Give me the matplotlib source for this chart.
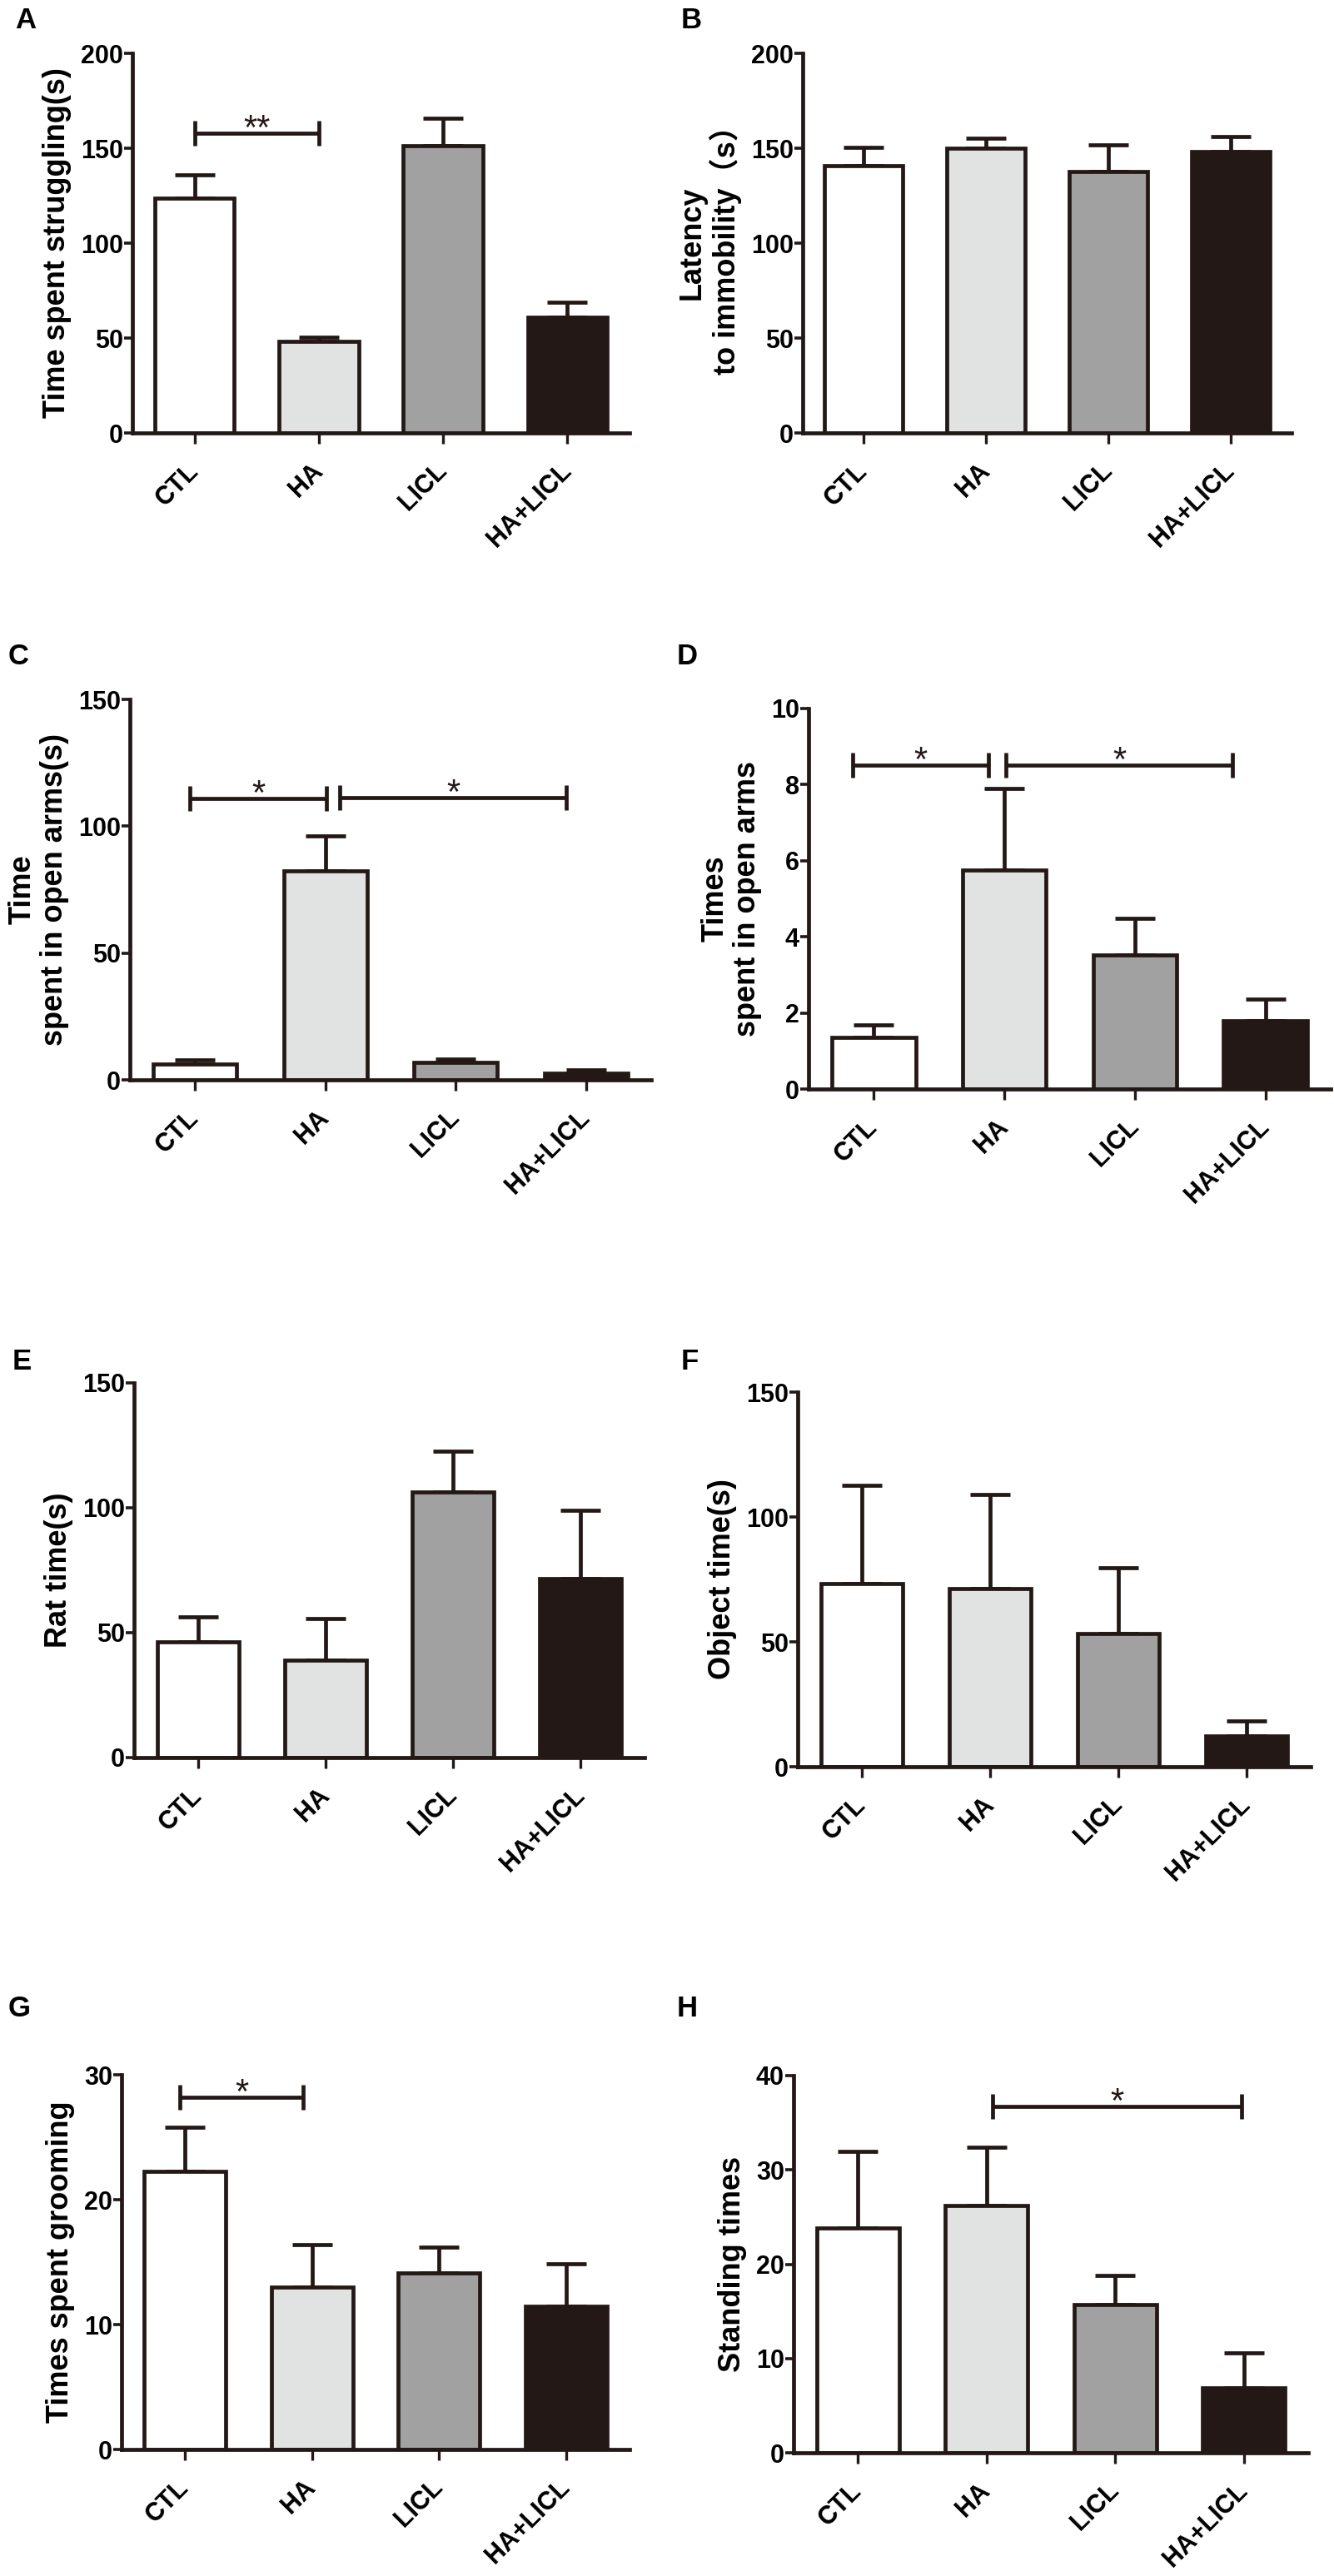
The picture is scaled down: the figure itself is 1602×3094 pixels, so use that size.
import matplotlib
matplotlib.use("Agg")
import matplotlib.pyplot as plt
import numpy as np

W, H = 1602, 3094
DPI = 100

groups = ["CTL", "HA", "LICL", "HA+LICL"]
bar_colors = ["#ffffff", "#e1e2e2", "#a1a1a1", "#231815"]
edge = "#231815"

A_mean = [123.9, 48.2, 151.4, 61.0]
A_err = [12.1, 2.3, 14.2, 7.8]
B_mean = [140.6, 150.2, 137.7, 148.3]
B_err = [9.8, 5.2, 14.1, 7.7]
C_mean = [6.4, 82.4, 6.8, 2.7]
C_err = [1.6, 13.8, 1.5, 1.4]
D_mean = [1.36, 5.76, 3.52, 1.79]
D_err = [0.33, 2.15, 0.97, 0.58]
E_mean = [46.2, 38.9, 106.2, 71.8]
E_err = [10.3, 16.9, 16.4, 27.1]
F_mean = [73.5, 71.2, 53.5, 12.3]
F_err = [39.3, 37.7, 26.2, 5.9]
G_mean = [22.3, 13.0, 14.15, 11.5]
G_err = [3.5, 3.4, 2.05, 3.4]
H_mean = [23.8, 26.2, 15.7, 6.9]
H_err = [8.2, 6.2, 3.1, 3.7]

A_sig = [(0.0, 1.0, 157.7, "**")]
C_sig = [(-0.04, 1.01, 110.9, "*"), (1.11, 2.85, 111.4, "*")]
D_sig = [(-0.16, 0.88, 8.52, "*"), (1.01, 2.75, 8.52, "*")]
G_sig = [(-0.04, 0.93, 28.2, "*")]
H_sig = [(1.05, 2.98, 36.7, "*")]

A_ticks = [0, 50, 100, 150, 200]
B_ticks = [0, 50, 100, 150, 200]
C_ticks = [0, 50, 100, 150]
D_ticks = [0, 2, 4, 6, 8, 10]
E_ticks = [0, 50, 100, 150]
F_ticks = [0, 50, 100, 150]
G_ticks = [0, 10, 20, 30]
H_ticks = [0, 10, 20, 30, 40]

A_label = "Time spent struggling(s)"
B_label = "Latency\nto immobility\uff08s\uff09"
C_label = "Time\nspent in open arms(s)"
D_label = "Times\nspent in open arms"
E_label = "Rat time(s)"
F_label = "Object time(s)"
G_label = "Times spent grooming"
H_label = "Standing times"

# panel pixel boxes (left, right, top, bottom) and letter baseline positions
panels = [
    ("A", A_mean, A_err, A_ticks, A_label, A_sig, (159, 756, 64, 520), (18, 34)),
    ("B", B_mean, B_err, B_ticks, B_label, [], (964, 1551, 64, 520), (818, 34)),
    ("C", C_mean, C_err, C_ticks, C_label, C_sig, (156, 782, 840, 1297), (10, 798)),
    ("D", D_mean, D_err, D_ticks, D_label, D_sig, (971, 1598, 851, 1308), (813, 798)),
    ("E", E_mean, E_err, E_ticks, E_label, [], (161, 774, 1661, 2111), (15, 1645)),
    ("F", F_mean, F_err, F_ticks, F_label, [], (958, 1574, 1672, 2122), (818, 1645)),
    ("G", G_mean, G_err, G_ticks, G_label, G_sig, (146, 756, 2492, 2942), (10, 2422)),
    ("H", H_mean, H_err, H_ticks, H_label, H_sig, (953, 1571, 2493, 2946), (813, 2422)),
]

bold_font = ["Liberation Sans", "Noto Sans CJK SC", "DejaVu Sans"]
narrow_font = ["Liberation Sans Narrow", "Liberation Sans", "DejaVu Sans"]

fig = plt.figure(figsize=(W / DPI, H / DPI), dpi=DPI)
fig.patch.set_facecolor("white")

LW = 3.4
for letter, means, errs, ticks, ylabel, sigs, box, lpos in panels:
    l, r, t, b = box
    ax = fig.add_axes([l / W, 1 - b / H, (r - l) / W, (b - t) / H])
    x = np.arange(len(groups))
    ax.errorbar(x, means, yerr=[np.zeros(len(errs)), errs], fmt="none",
                ecolor=edge, elinewidth=LW, capsize=17, capthick=LW, zorder=1)
    ax.bar(x, means, width=0.64, color=bar_colors, edgecolor=edge,
           linewidth=LW, zorder=2)
    ax.set_xlim(-0.5, 3.5)
    ax.set_ylim(0, ticks[-1])
    ax.set_yticks(ticks)
    ax.set_yticklabels([str(v) for v in ticks], family=narrow_font,
                       fontweight="bold", fontsize=22)
    ax.set_xticks(x)
    ax.set_xticklabels(groups, rotation=45, ha="right", va="center",
                       rotation_mode="anchor", family=bold_font,
                       fontweight="bold", fontsize=22)
    for side in ["top", "right"]:
        ax.spines[side].set_visible(False)
    for side in ["left", "bottom"]:
        ax.spines[side].set_linewidth(LW)
        ax.spines[side].set_color(edge)
    ax.tick_params(axis="y", length=7, width=2.6, color=edge, pad=1)
    ax.tick_params(axis="x", length=9.5, width=2.4, color=edge, pad=20)
    ax.set_ylabel(ylabel, family=bold_font, fontweight="bold", fontsize=26,
                  labelpad=8, linespacing=1.1)
    for x1, x2, y, s in sigs:
        ax.plot([x1, x2], [y, y], color=edge, lw=LW, solid_capstyle="butt",
                clip_on=False, zorder=3)
        ax.plot([x1, x2], [y, y], linestyle="none", marker="|", markersize=21,
                mew=LW, color=edge, clip_on=False, zorder=3)
        ax.annotate(s, xy=((x1 + x2) / 2, y), xytext=(0, -5),
                    textcoords="offset points", ha="center", va="baseline",
                    fontsize=30, family=["Liberation Sans", "DejaVu Sans"],
                    color=edge)
    fig.text(lpos[0] / W, 1 - lpos[1] / H, letter, ha="left", va="baseline",
             fontsize=25, fontweight="bold", family=bold_font, color="black")

fig.savefig("out.png", dpi=DPI, facecolor="white")
